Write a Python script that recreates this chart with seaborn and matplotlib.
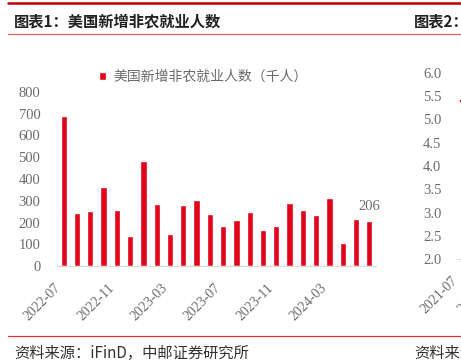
import numpy as np
import matplotlib
matplotlib.use("Agg")
import matplotlib.pyplot as plt
import seaborn as sns

# data: US nonfarm payrolls, thousands
months = ["2022-07", "2022-08", "2022-09", "2022-10", "2022-11", "2022-12",
          "2023-01", "2023-02", "2023-03", "2023-04", "2023-05", "2023-06",
          "2023-07", "2023-08", "2023-09", "2023-10", "2023-11", "2023-12",
          "2024-01", "2024-02", "2024-03", "2024-04", "2024-05", "2024-06"]
payrolls = [690, 243, 255, 362, 258, 137, 484, 287, 147, 279, 304, 240,
            184, 210, 247, 166, 182, 290, 256, 236, 312, 108, 218, 206]
label_every = 4

# second panel (mostly cut off at right edge)
months2 = ["2021-07", "2021-08", "2021-09", "2021-10", "2021-11"]
unemp2 = [5.4, 5.2, 4.8, 4.5, 4.2]

RED = "#E2001A"
GRAY = "#6B6B6B"

sns.set_style("white")
plt.rcParams["font.family"] = ["Noto Sans CJK SC", "DejaVu Sans"]

fig = plt.figure(figsize=(4.61, 3.63), dpi=100)
W, H = 461, 363

def fx(px):
    return px / W

def fy(py):
    return 1 - py / H

# header / footer decoration
fig.add_artist(plt.Line2D([fx(8), 1], [fy(3), fy(3)], color="#C00000", lw=1.8))
fig.add_artist(plt.Line2D([fx(8), 1], [fy(34), fy(34)], color="#E06060", lw=0.9))
fig.add_artist(plt.Line2D([fx(8), 1], [fy(336), fy(336)], color="#E03030", lw=0.9))
fig.text(fx(14), fy(21), "图表1：美国新增非农就业人数", fontsize=11, fontweight="bold",
         color="#222222", va="center", ha="left")
fig.text(fx(414), fy(21), "图表2：", fontsize=11, fontweight="bold",
         color="#222222", va="center", ha="left")
fig.text(fx(14), fy(353), "资料来源：iFinD，中邮证券研究所", fontsize=11,
         color="#333333", va="center", ha="left")
fig.text(fx(414), fy(353), "资料来源：iFinD，中邮证券研究所", fontsize=11,
         color="#333333", va="center", ha="left")

# main chart
ax = fig.add_axes([fx(57), fy(266), fx(376) - fx(57), fy(92) - fy(266)])
sns.barplot(x=months, y=payrolls, color=RED, width=0.47, saturation=1,
            label="美国新增非农就业人数（千人）", ax=ax)
ax.set_xlim(-0.5, len(months) - 0.5)
ax.set_ylim(0, 800)
ax.set_yticks(np.arange(0, 801, 100))
for s in ["top", "right", "left"]:
    ax.spines[s].set_visible(False)
ax.spines["bottom"].set_color("#D9D9D9")
ax.spines["bottom"].set_linewidth(0.9)

idx = list(range(0, len(months), label_every))
ax.set_xticks(idx)
ax.set_xticklabels([months[i] for i in idx], rotation=45, ha="right",
                   family="Liberation Serif", fontsize=10, color=GRAY)
ax.set_xticks(np.arange(-0.5, len(months), label_every), minor=True)
ax.tick_params(axis="x", which="major", length=0, pad=11)
ax.tick_params(axis="x", which="minor", length=3.5, color="#D9D9D9", width=0.9)
ax.tick_params(axis="y", length=0, pad=12)
for t in ax.get_yticklabels():
    t.set_family("Liberation Serif")
    t.set_fontsize(10.5)
    t.set_color(GRAY)
ax.set_xlabel("")
ax.set_ylabel("")

ax.annotate(f"{payrolls[-1]}", xy=(len(months) - 1, payrolls[-1]), xytext=(0, 6),
            textcoords="offset points", ha="center", va="bottom",
            family="Liberation Serif", fontsize=10.5, color=GRAY)

leg = ax.legend(loc="center", bbox_to_anchor=(fx(203), fy(77)),
                bbox_transform=fig.transFigure, frameon=False,
                handlelength=0.55, handleheight=0.55, handletextpad=0.5,
                prop={"size": 10})
for t in leg.get_texts():
    t.set_color(GRAY)

# second chart, cut off by the figure edge
ax2 = fig.add_axes([fx(458), fy(259), 0.7, fy(73) - fy(259)])
sns.lineplot(x=np.arange(len(months2)), y=unemp2, color=RED, lw=1.5, ax=ax2)
ax2.set_xlim(-0.3, 35.7)
ax2.set_ylim(2.0, 6.0)
ax2.set_yticks(np.arange(2.0, 6.01, 0.5))
ax2.set_yticklabels([f"{v:.1f}" for v in np.arange(2.0, 6.01, 0.5)],
                    family="Liberation Serif", fontsize=10.5, color=GRAY)
ax2.set_xticks([0, 4])
ax2.set_xticklabels([months2[0], months2[4]], rotation=45, ha="right",
                    family="Liberation Serif", fontsize=10, color=GRAY)
ax2.set_xticks([-0.3], minor=True)
ax2.tick_params(axis="x", which="major", length=0, pad=11)
ax2.tick_params(axis="x", which="minor", length=3.5, color="#D9D9D9", width=0.9)
ax2.tick_params(axis="y", length=0, pad=12)
for s in ["top", "right", "left"]:
    ax2.spines[s].set_visible(False)
ax2.spines["bottom"].set_color("#D9D9D9")

fig.savefig("out.png", dpi=100)
